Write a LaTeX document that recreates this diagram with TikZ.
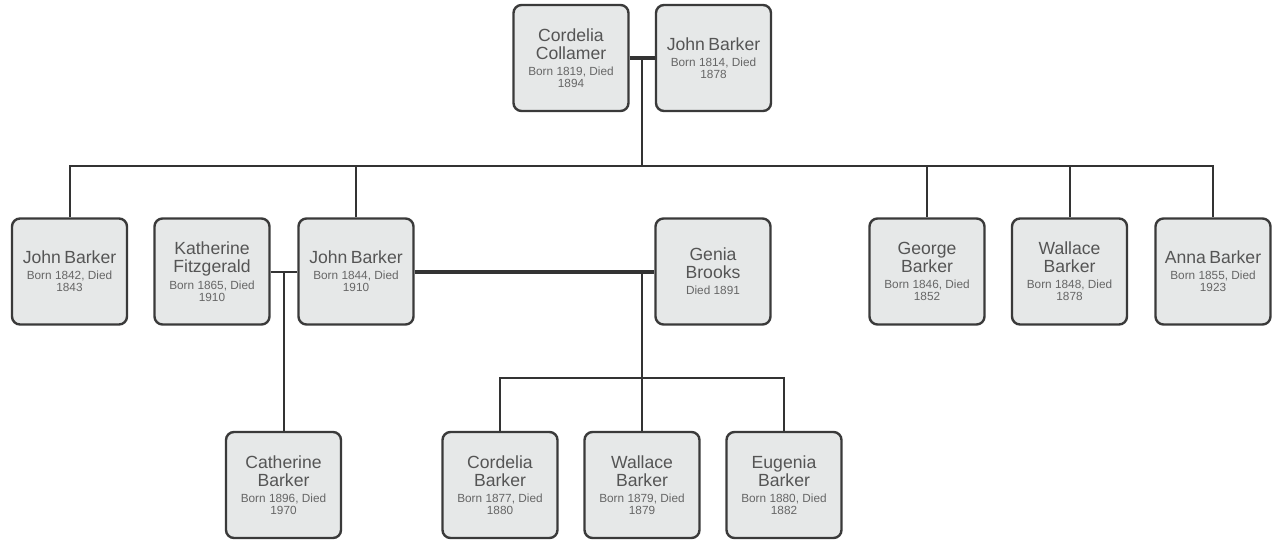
\documentclass[tikz,border=0pt]{standalone}
\usepackage{fontspec}
\setmainfont{Liberation Sans}
\usetikzlibrary{calc}
\definecolor{boxfill}{HTML}{E6E8E8}
\definecolor{boxline}{HTML}{3A3A3A}
\definecolor{txt}{HTML}{555555}
\definecolor{datetxt}{HTML}{666666}
\definecolor{conn}{HTML}{333333}
\newcommand{\nm}[1]{{\fontsize{17.6}{18}\selectfont #1\par}\vspace{4pt}}
\newcommand{\dt}[1]{{\color{datetxt}\fontsize{11.8}{12}\selectfont #1\par}}
\tikzset{
  person/.style={draw=boxline, line width=2.4pt, fill=boxfill, rounded corners=8pt,
    minimum width=115pt, minimum height=106pt, inner sep=0pt, text width=112pt,
    align=center, text=txt},
  link/.style={draw=conn, line width=2pt},
  couple/.style={draw=conn, line width=4pt},
}
\begin{document}
\begin{tikzpicture}[x=1pt,y=-1pt]
\useasboundingbox (0,0) rectangle (1273,541);
% generation 1
\node[person] (cc) at (571,58) {\nm{Cordelia\\Collamer}\dt{Born 1819, Died\\1894}};
\node[person] (jb0) at (713.5,58) {\nm{John Barker}\dt{Born 1814, Died\\1878}};
% generation 2
\node[person] (jb1842) at (69.5,271.5) {\nm{John Barker}\dt{Born 1842, Died\\1843}};
\node[person] (kf) at (212,271.5) {\nm{Katherine\\Fitzgerald}\dt{Born 1865, Died\\1910}};
\node[person] (jb1844) at (356,271.5) {\nm{John Barker}\dt{Born 1844, Died\\1910}};
\node[person] (genia) at (713,271.5) {\nm{Genia\\Brooks}\dt{Died 1891}};
\node[person] (george) at (927,271.5) {\nm{George\\Barker}\dt{Born 1846, Died\\1852}};
\node[person] (wallace) at (1069.5,271.5) {\nm{Wallace\\Barker}\dt{Born 1848, Died\\1878}};
\node[person] (anna) at (1213,271.5) {\nm{Anna Barker}\dt{Born 1855, Died\\1923}};
% generation 3
\node[person] (cath) at (283.5,485) {\nm{Catherine\\Barker}\dt{Born 1896, Died\\1970}};
\node[person] (cordb) at (500,485) {\nm{Cordelia\\Barker}\dt{Born 1877, Died\\1880}};
\node[person] (wallb) at (642,485) {\nm{Wallace\\Barker}\dt{Born 1879, Died\\1879}};
\node[person] (eugb) at (784,485) {\nm{Eugenia\\Barker}\dt{Born 1880, Died\\1882}};
% couple 1
\coordinate (bar0) at (642,166);
\coordinate (m0) at (bar0 |- cc.east);
\draw[link] (m0) -- (bar0);
\draw[couple] (cc.east) -- (jb0.west);
\draw[link] (jb1842.north) |- (bar0) -| (anna.north);
\foreach \n in {jb1844,george,wallace} \draw[link] (\n.north) -- (\n.north |- bar0);
% couple KF - JB1844
\coordinate (m1) at (cath.north |- kf.east);
\draw[link] (kf.east) -- (jb1844.west);
\draw[link] (m1) -- (cath.north);
% couple JB1844 - Genia
\coordinate (bar2) at (642,378);
\coordinate (m2) at (bar2 |- genia.west);
\draw[link] (m2) -- (bar2);
\draw[couple] (jb1844.east) -- (genia.west);
\draw[link] (cordb.north) |- (bar2) -| (eugb.north);
\draw[link] (wallb.north) -- (bar2);
\end{tikzpicture}
\end{document}
